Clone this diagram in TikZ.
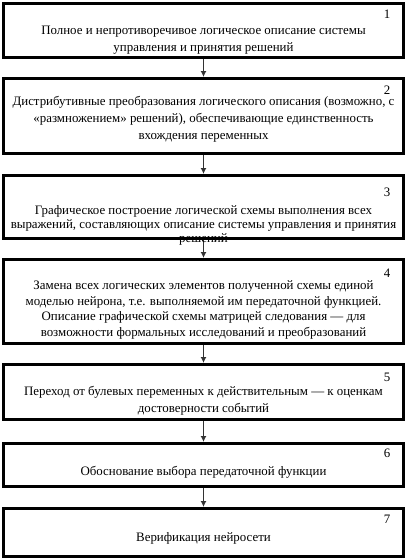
\documentclass[tikz,border=0pt]{standalone}
\usepackage{fontspec}
\setmainfont{Liberation Serif}
\usetikzlibrary{arrows.meta}

\begin{document}
\begin{tikzpicture}[x=1pt, y=-1pt,
		blok/.style={rectangle, draw, line width=3pt, minimum width=400pt, inner sep=0pt},
		tekst/.style={align=center, inner sep=0pt, font=\fontsize{12.9}{17}\selectfont},
		nomer/.style={inner sep=0pt, font=\fontsize{12.9}{15}\selectfont},
		strelka/.style={-{Latex[length=6pt, width=6pt]}, line width=1.2pt, draw=black!80}]
	\useasboundingbox (0, 0) rectangle (407, 560);

	% блоки
	\node[blok, minimum height=54pt] (b1) at (203.5, 30.5) {};
	\node[blok, minimum height=75pt] (b2) at (203.5, 116) {};
	\node[blok, minimum height=63pt] (b3) at (203.5, 207) {};
	\node[blok, minimum height=84pt] (b4) at (203.5, 301.5) {};
	\node[blok, minimum height=55pt] (b5) at (203.5, 392) {};
	\node[blok, minimum height=43pt] (b6) at (203.5, 465) {};
	\node[blok, minimum height=48pt] (b7) at (203.5, 532.5) {};

	% стрелки
	\draw[strelka] (b1) -- (b2);
	\draw[strelka] (b2) -- (b3);
	\draw[strelka] (b3) -- (b4);
	\draw[strelka] (b4) -- (b5);
	\draw[strelka] (b5) -- (b6);
	\draw[strelka] (b6) -- (b7);

	% номера
	\node[nomer] (n1) at (387, 14) {1};
	\node[nomer] (n2) at (387, 90) {2};
	\node[nomer] (n3) at (387, 192) {3};
	\node[nomer] (n4) at (387, 273) {4};
	\node[nomer] (n5) at (387, 377) {5};
	\node[nomer] (n6) at (387, 453) {6};
	\node[nomer] (n7) at (387, 519) {7};

	% текст
	\node[tekst] (t1) at (203.5, 40.5) {Полное и непротиворечивое логическое описание системы\\управления и принятия решений};
	\node[tekst] (t2) at (203.5, 119.5) {Дистрибутивные преобразования логического описания (возможно, с\\«размножением» решений), обеспечивающие единственность\\вхождения переменных};
	\node[tekst, font=\fontsize{12.9}{14}\selectfont] (t3) at (203.5, 225.5) {Графическое построение логической схемы выполнения всех\\выражений, составляющих описание системы управления и принятия\\решений};
	\node[tekst, font=\fontsize{12.9}{15.5}\selectfont] (t4) at (203.5, 310) {Замена всех логических элементов полученной схемы единой\\моделью нейрона, т.е. выполняемой им передаточной функцией.\\Описание графической схемы матрицей следования — для\\возможности формальных исследований и преобразований};
	\node[tekst] (t5) at (203.5, 401) {Переход от булевых переменных к действительным — к оценкам\\достоверности событий};
	\node[tekst] (t6) at (203.5, 472) {Обоснование выбора передаточной функции};
	\node[tekst] (t7) at (203.5, 538) {Верификация нейросети};
\end{tikzpicture}
\end{document}
